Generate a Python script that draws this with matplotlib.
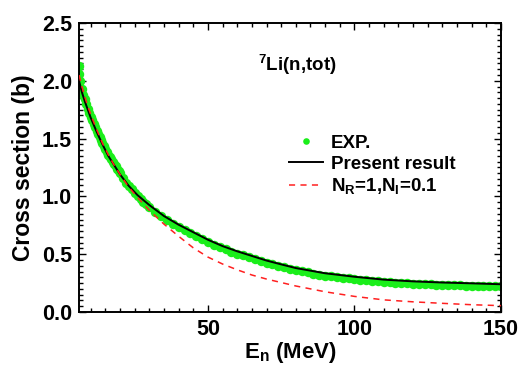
"""Полное сечение 7Li(n,tot): эксперимент и расчёт."""

import matplotlib
matplotlib.use("Agg")
import matplotlib.pyplot as plt
from matplotlib.ticker import MultipleLocator


exp_e = [6, 6, 6.5, 7, 7.5, 8, 8.5, 9, 9.5, 10, 10.5, 11, 11.5, 12, 12.5,
         13, 13.5, 14, 14.5, 15, 15.5, 16, 16.5, 17, 17.5, 18, 18.5, 19,
         19.5, 20, 21, 22, 23, 24, 25, 26, 27, 28, 29, 30, 32, 34, 36, 38,
         40, 42, 44, 46, 48, 50,
         52, 54, 56, 58, 60, 62, 64, 66, 68, 70, 72, 74, 76, 78, 80,
         82, 84, 86, 88, 90, 92, 94, 96, 98, 100, 102, 104, 106, 108, 110,
         112, 114, 116, 118, 120, 122, 124, 126, 128, 130, 132, 134, 136,
         138, 140, 142, 144, 146, 148, 150]
exp_sigma = [2.13, 2.06, 2.00, 1.93, 1.88, 1.84, 1.80, 1.76, 1.72, 1.69,
             1.66, 1.63, 1.60, 1.57, 1.54, 1.51, 1.485, 1.46, 1.435, 1.41,
             1.385, 1.36, 1.34, 1.32, 1.30, 1.28, 1.26, 1.24, 1.22, 1.20,
             1.16, 1.12, 1.09, 1.06, 1.03, 1.00, 0.978, 0.955, 0.93, 0.905,
             0.865, 0.83, 0.795, 0.765,
             0.735, 0.709, 0.683, 0.657, 0.631, 0.605,
             0.583, 0.561, 0.541, 0.523, 0.505, 0.489, 0.473, 0.457, 0.441,
             0.425, 0.412, 0.399, 0.386, 0.373, 0.36,
             0.351, 0.342, 0.333, 0.324, 0.315, 0.309, 0.303, 0.297, 0.291,
             0.285, 0.28, 0.275, 0.27, 0.265, 0.26,
             0.257, 0.254, 0.251, 0.248, 0.245, 0.243, 0.241, 0.239, 0.237,
             0.235, 0.234, 0.232, 0.231, 0.229, 0.228, 0.227, 0.225, 0.224,
             0.222, 0.221]

# Расчётные кривые
calc_e = [6, 7, 8, 9, 10, 12, 14, 16, 18, 20, 23, 26, 30, 35, 40, 45, 50,
          55, 60, 65, 70, 75, 80, 90, 100, 110, 120, 130, 140, 150]
present = [2.00, 1.90, 1.82, 1.75, 1.68, 1.56, 1.45, 1.35, 1.27, 1.19, 1.09,
           1.01, 0.925, 0.83, 0.755, 0.69, 0.625, 0.57, 0.525, 0.485, 0.445,
           0.412, 0.38, 0.335, 0.305, 0.28, 0.265, 0.255, 0.248, 0.24]
nr1_ni01 = [2.05, 1.95, 1.86, 1.78, 1.71, 1.58, 1.46, 1.36, 1.27, 1.19, 1.08,
            0.99, 0.88, 0.76, 0.655, 0.555, 0.475, 0.415, 0.365, 0.32, 0.285,
            0.255, 0.225, 0.175, 0.135, 0.105, 0.088, 0.075, 0.063, 0.055]


def plot_results():
    """Построение графика."""
    plt.rcParams["font.family"] = ["Liberation Sans", "DejaVu Sans"]
    plt.rcParams["font.weight"] = "bold"
    plt.rcParams["axes.labelweight"] = "bold"
    plt.rcParams["mathtext.fontset"] = "custom"
    plt.rcParams["mathtext.rm"] = "Liberation Sans:bold"
    plt.rcParams["mathtext.bf"] = "Liberation Sans:bold"
    plt.rcParams["mathtext.it"] = "Liberation Sans:bold"
    plt.rcParams["mathtext.default"] = "bf"

    fig = plt.figure(figsize=(5.24, 3.65), dpi=100)
    ax = fig.add_axes([0.1508, 0.1452, 0.8052, 0.7918])

    ax.plot(exp_e, exp_sigma, "o", color="#1aee1a", ms=6.8, mec="none",
            label="EXP.", zorder=2)
    ax.plot(calc_e, present, "-", color="black", lw=1.4,
            label="Present result", zorder=3)
    ax.plot(calc_e, nr1_ni01, "--", color="#ff2020", lw=1.1,
            dashes=(4, 3.5), label=r"N$_\mathregular{R}$=1,N$_\mathregular{I}$=0.1",
            zorder=4)

    ax.set_xlim(6, 150)
    ax.set_ylim(0, 2.5)
    ax.xaxis.set_major_locator(MultipleLocator(50))
    ax.xaxis.set_minor_locator(MultipleLocator(5))
    ax.yaxis.set_major_locator(MultipleLocator(0.5))
    ax.yaxis.set_minor_locator(MultipleLocator(0.05))
    ax.yaxis.set_major_formatter(plt.FormatStrFormatter("%.1f"))

    ax.tick_params(which="both", direction="in", top=True, right=True,
                   labelsize=15.5, width=1.0, pad=5)
    ax.tick_params(which="major", length=5)
    ax.tick_params(which="minor", length=3)
    for spine in ax.spines.values():
        spine.set_linewidth(1.4)

    ax.set_xlabel(r"E$_\mathregular{n}$ (MeV)", fontsize=16, labelpad=0)
    ax.set_ylabel("Cross section (b)", fontsize=16.5, labelpad=5)

    ax.text(0.424, 0.834, r"$^\mathregular{7}$Li(n,tot)", transform=ax.transAxes,
            fontsize=13.5)

    leg = ax.legend(loc="upper left", bbox_to_anchor=(0.481, 0.64), frameon=False,
                    fontsize=13.5, handlelength=1.8, handletextpad=0.4,
                    labelspacing=0.2, borderaxespad=0, markerscale=0.7)
    leg.set_zorder(5)

    fig.savefig("out.png", dpi=100)
    plt.close(fig)


if __name__ == "__main__":
    plot_results()
